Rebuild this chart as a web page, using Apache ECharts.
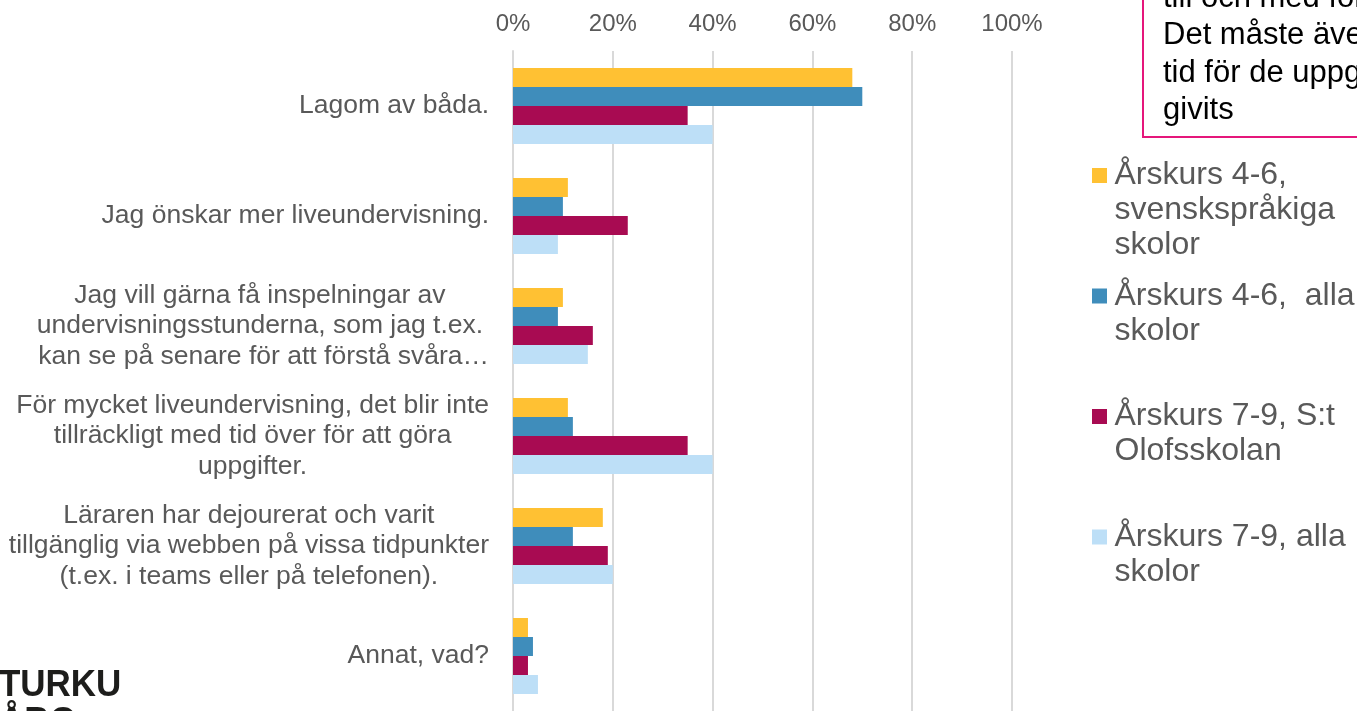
<!DOCTYPE html>
<html>
<head>
<meta charset="utf-8">
<script src="https://cdn.jsdelivr.net/npm/echarts@6/dist/echarts.min.js"></script>
<style>
html,body{margin:0;padding:0;background:#fff;}
#chart{width:1357px;height:711px;}
</style>
</head>
<body>
<div id="chart"></div>
<script>
const categories = [
  'Lagom av båda.',
  'Jag önskar mer liveundervisning.',
  'Jag vill gärna få inspelningar av\nundervisningsstunderna, som jag t.ex.\n kan se på senare för att förstå svåra…',
  'För mycket liveundervisning, det blir inte\ntillräckligt med tid över för att göra\nuppgifter.',
  'Läraren har dejourerat och varit\ntillgänglig via webben på vissa tidpunkter\n(t.ex. i teams eller på telefonen).',
  'Annat, vad?'
];
const legendLines = [
  ['Årskurs 4-6,', 'svenskspråkiga', 'skolor'],
  ['Årskurs 4-6,  alla', 'skolor'],
  ['Årskurs 7-9, S:t', 'Olofsskolan'],
  ['Årskurs 7-9, alla', 'skolor']
];
const seriesNames = legendLines.map(l => l.join(' '));
const values46Svensk = [68, 11, 10, 11, 18, 3];
const values46Alla   = [70, 10,  9, 12, 12, 4];
const values79StOlof = [35, 23, 16, 35, 19, 3];
const values79Alla   = [40,  9, 15, 40, 20, 5];
const seriesValues = [values46Svensk, values46Alla, values79StOlof, values79Alla];
const colors = ['#FFC133', '#3F8DBB', '#A80B52', '#BDDFF7'];
const noteLines = ['till och med för mycket.', 'Det måste även finnas', 'tid för de uppgifter som', 'givits'];
const logoLines = ['TURKU', 'ÅBO'];

const FONT = '"Liberation Sans", Arial, sans-serif';
const chart = echarts.init(document.getElementById('chart'));

const legendIconY = [175.5, 296, 416.5, 537];
const LEG_LH = 35;
const legends = legendLines.map((lines, i) => {
  const n = lines.length;
  const H = (2 * n - 1) * LEG_LH;
  return {
    show: true,
    left: 1092,
    top: legendIconY[i] - H / 2,
    padding: 0,
    orient: 'vertical',
    selectedMode: false,
    data: [seriesNames[i]],
    icon: 'path://M0,0H15V15H0Z',
    itemWidth: 20,
    itemHeight: 15,
    formatter: () => '\n'.repeat(n - 1) + lines.join('\n'),
    textStyle: { fontFamily: FONT, fontSize: 32, lineHeight: LEG_LH, color: '#595959' }
  };
});

const option = {
  animation: false,
  backgroundColor: '#ffffff',
  grid: { left: 513, top: 51, width: 499, height: 664, containLabel: false },
  xAxis: {
    type: 'value',
    position: 'top',
    min: 0, max: 100, interval: 20,
    axisLine: { show: false },
    axisTick: { show: false },
    axisLabel: {
      formatter: v => v + '%',
      fontFamily: FONT, fontSize: 24, color: '#595959', margin: 15
    },
    splitLine: { show: true, lineStyle: { color: '#D9D9D9', width: 2 } }
  },
  yAxis: {
    type: 'category',
    inverse: true,
    data: categories,
    axisLine: { show: true, lineStyle: { color: '#D9D9D9', width: 2 } },
    axisTick: { show: false },
    axisLabel: {
      interval: 0,
      margin: 24,
      align: 'right',
      formatter: v => v.split('\n').map(l => '{c|' + l + '}').join('\n'),
      rich: {
        c: { align: 'center', fontFamily: FONT, fontSize: 26.5, lineHeight: 30.5, color: '#595959' }
      }
    }
  },
  legend: legends,
  series: seriesValues.map((vals, i) => ({
    type: 'bar',
    name: seriesNames[i],
    data: vals,
    barWidth: 19,
    barGap: '0%',
    itemStyle: { color: colors[i] }
  })),
  graphic: [
    {
      type: 'rect',
      shape: { x: 1143, y: -20, width: 260, height: 157 },
      style: { fill: 'rgba(0,0,0,0)', stroke: '#E5177B', lineWidth: 2 },
      z: 10
    },
    {
      type: 'text',
      x: 1163, y: -20.5,
      style: {
        text: noteLines.join('\n'),
        fontFamily: FONT, fontSize: 31, lineHeight: 37.5,
        fill: '#000000', verticalAlign: 'top', align: 'left'
      },
      z: 10
    },
    {
      type: 'text',
      x: -1, y: 667,
      scaleX: 0.945,
      style: {
        text: logoLines.join('\n'),
        fontFamily: FONT, fontWeight: 'bold', fontSize: 37, lineHeight: 37,
        fill: '#1D1D1B', verticalAlign: 'top', align: 'left'
      },
      z: 10
    }
  ]
};
chart.setOption(option);
</script>
</body>
</html>
